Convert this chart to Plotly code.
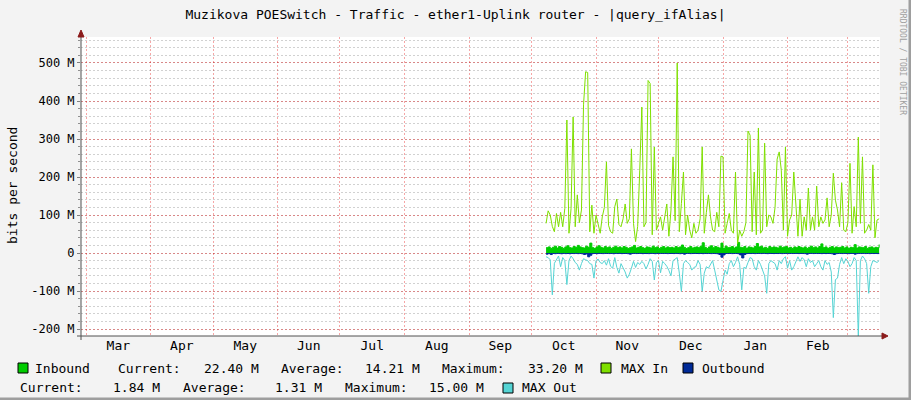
import pandas as pd
import plotly.graph_objects as go

# --- data (values in Mbit/s, one per day, starting 2019-10-08) ---
start_day = "2019-10-08"

max_in = [
    78, 111, 100, 70, 56, 104, 69, 107, 69, 117,
    350, 52, 117, 358, 69, 153, 80, 113, 390, 477,
    475, 56, 126, 52, 100, 78, 52, 95, 120, 240,
    73, 56, 52, 122, 142, 75, 69, 90, 129, 78,
    90, 274, 78, 30, 70, 218, 384, 69, 80, 454,
    446, 48, 279, 60, 80, 95, 60, 95, 129, 44,
    113, 253, 85, 500, 56, 130, 213, 48, 100, 60,
    40, 78, 52, 60, 90, 279, 52, 107, 153, 95,
    60, 56, 107, 69, 255, 253, 52, 78, 104, 60,
    52, 213, 25, 60, 44, 56, 80, 321, 310, 56,
    213, 48, 329, 52, 60, 289, 69, 100, 95, 78,
    120, 247, 266, 218, 60, 279, 44, 87, 100, 213,
    139, 44, 142, 44, 95, 60, 171, 60, 95, 60,
    176, 69, 95, 78, 87, 145, 69, 100, 210, 139,
    113, 69, 185, 60, 56, 80, 236, 52, 122, 69,
    305, 78, 253, 52, 60, 75, 60, 232, 40, 87,
    90,
]

inbound = [
    14, 16, 12, 15, 18, 13, 17, 15, 12, 16,
    19, 14, 13, 17, 15, 20, 16, 14, 13, 18,
    15, 26, 14, 12, 16, 19, 15, 13, 17, 14,
    16, 12, 15, 18, 14, 16, 13, 17, 15, 12,
    14, 16, 20, 13, 15, 17, 14, 12, 16, 15,
    13, 18, 14, 16, 12, 15, 17, 13, 16, 14,
    15, 13, 17, 14, 16, 21, 15, 12, 14, 17,
    13, 15, 16, 14, 18, 27, 15, 12, 16, 19,
    14, 17, 15, 13, 26, 12, 18, 14, 15, 17,
    13, 16, 28, 15, 14, 17, 12, 16, 15, 13,
    17, 25, 16, 18, 13, 15, 12, 17, 14, 16,
    15, 13, 18, 14, 16, 17, 13, 15, 12, 16,
    14, 17, 15, 13, 16, 12, 15, 18, 14, 16,
    13, 17, 24, 14, 16, 12, 15, 17, 13, 16,
    14, 15, 17, 13, 16, 12, 15, 14, 22, 13,
    16, 15, 14, 17, 12, 15, 16, 13, 15, 14,
    22.4,
]

outbound = [
    -3, -1.5, -4, -1.2, -1.8, -1, -1.4, -2, -1.1, -1.6,
    -1.3, -1.9, -1.2, -1.5, -1, -1.7, -1.3, -2.2, -4, -2.5,
    -10, -6, -1.5, -1.2, -1.8, -1.1, -1.4, -1.6, -1, -1.3,
    -1.5, -1.2, -1.9, -1.1, -1.4, -1, -1.6, -1.3, -1.2, -1.8,
    -3, -1.4, -1.1, -1.5, -1.3, -1, -1.7, -1.2, -1.4, -1.6,
    -1.1, -1.3, -1.8, -1, -1.5, -1.2, -1.4, -1.1, -1.6, -1.3,
    -1.2, -1.5, -1, -1.4, -1.8, -1.1, -3, -1.3, -1.2, -1.6,
    -1.4, -1, -1.3, -1.5, -1.2, -1.7, -1.1, -1.4, -1.3, -1.6,
    -1.2, -1.5, -2, -4, -11, -5, -1.3, -1.4, -1.1, -1.6,
    -1.3, -1.2, -2, -5, -13, -4, -1.5, -1.2, -1.4, -1.1,
    -1.6, -1.3, -1.2, -1.5, -1, -1.4, -1.7, -1.1, -1.3, -1.5,
    -1.2, -1.4, -1.1, -1.6, -1.3, -1, -1.5, -1.2, -1.4, -1.3,
    -1.1, -1.5, -1.2, -1.4, -1.6, -3, -1.3, -1.1, -1.5, -1.2,
    -1.4, -1.3, -1.6, -1.1, -1.5, -1.2, -1.4, -2, -4, -1.8,
    -1.3, -1.2, -1.5, -1.1, -1.4, -1.6, -1.2, -1.3, -3, -1.5,
    -1.2, -1.4, -1.1, -1.5, -1.3, -1.6, -1.2, -1.4, -1.1, -1.5,
    -1.84,
]

max_out = [
    -10, -12, -18, -110, -27, -18, -8, -36, -12, -20,
    -83, -20, -8, -15, -25, -30, -45, -28, -15, -18,
    -20, -28, -30, -66, -20, -16, -25, -28, -20, -32,
    -15, -35, -40, -12, -38, -53, -28, -39, -50, -66,
    -56, -40, -22, -38, -25, -30, -22, -28, -42, -30,
    -15, -22, -71, -25, -20, -52, -22, -28, -35, -46,
    -60, -20, -15, -12, -53, -101, -28, -20, -25, -30,
    -45, -38, -36, -20, -30, -101, -53, -36, -40, -30,
    -20, -45, -70, -97, -101, -71, -45, -56, -28, -20,
    -36, -25, -10, -30, -97, -38, -40, -25, -12, -15,
    -36, -45, -20, -30, -48, -60, -106, -28, -20, -25,
    -28, -45, -20, -28, -15, -10, -40, -20, -45, -36,
    -20, -10, -22, -12, -18, -36, -15, -25, -20, -36,
    -28, -20, -36, -45, -20, -30, -25, -50, -170, -70,
    -66, -30, -12, -28, -15, -22, -36, -28, -12, -20,
    -220, -20, -8, -15, -28, -106, -36, -20, -22, -25,
    -20,
]

month_labels = ["Mar", "Apr", "May", "Jun", "Jul", "Aug",
                "Sep", "Oct", "Nov", "Dec", "Jan", "Feb"]
y_ticks = [-200, -100, 0, 100, 200, 300, 400, 500]
y_tick_text = ["-200 M", "-100 M", "0", "100 M", "200 M", "300 M", "400 M", "500 M"]

legend_rows = [
    # (text, x pixel, row, anchor)
    ("Inbound", 33, 0, "left"), ("Current:", 116, 0, "left"), ("22.40 M", 261, 0, "right"),
    ("Average:", 279, 0, "left"), ("14.21 M", 422, 0, "right"),
    ("Maximum:", 440, 0, "left"), ("33.20 M", 585, 0, "right"),
    ("MAX In", 619, 0, "left"), ("Outbound", 700, 0, "left"),
    ("Current:", 18, 1, "left"), ("1.84 M", 162, 1, "right"),
    ("Average:", 181, 1, "left"), ("1.31 M", 324, 1, "right"),
    ("Maximum:", 343, 1, "left"), ("15.00 M", 486, 1, "right"),
    ("MAX Out", 520, 1, "left"),
]

# Colors
C_IN = "#00CC00"
C_MAXIN = "#7FE000"
C_OUT = "#002A97"
C_MAXOUT = "#55D4D4"

# Geometry of the canvas (pixels)
W, H = 911, 400
L, R, T, B = 81, 880, 37, 336


def px(X):
    return (X - L) / (R - L)


def py(Y):
    return (B - Y) / (B - T)


days = pd.date_range(start_day, periods=len(max_in), freq="D")
month_starts = pd.date_range("2019-03-01", periods=13, freq="MS")
month_mid = month_starts[:-1] + (month_starts[1:] - month_starts[:-1]) / 2

fig = go.Figure()

fig.add_trace(go.Scatter(x=days[:len(inbound)], y=inbound, mode="lines",
                         line=dict(color=C_IN, width=1, shape="hv"),
                         fill="tozeroy", fillcolor=C_IN, hoverinfo="skip"))
fig.add_trace(go.Scatter(x=days[:len(outbound)], y=outbound, mode="lines",
                         line=dict(color=C_OUT, width=1, shape="hv"),
                         fill="tozeroy", fillcolor=C_OUT, hoverinfo="skip"))
fig.add_trace(go.Scatter(x=days, y=max_in, mode="lines",
                         line=dict(color=C_MAXIN, width=1)))
fig.add_trace(go.Scatter(x=days[:len(max_out)], y=max_out, mode="lines",
                         line=dict(color=C_MAXOUT, width=1)))

fig.update_xaxes(
    type="date",
    range=["2019-02-26 14:00", "2020-03-16 10:00"],
    tickmode="array",
    tickvals=list(month_mid),
    ticktext=month_labels,
    ticks="",
    showgrid=False,
    zeroline=False,
    showline=False,
    tickfont=dict(size=13),
    minor=dict(dtick="M1", tick0="2019-03-01", showgrid=True,
               gridcolor="rgba(230,0,0,0.35)", griddash="2px,2px", gridwidth=1),
)

fig.update_yaxes(
    range=[-218.4, 568.4],
    tickmode="array",
    tickvals=y_ticks,
    ticktext=y_tick_text,
    ticks="outside",
    ticklen=3,
    tickcolor="#808080",
    showgrid=True,
    gridcolor="rgba(230,0,0,0.35)",
    griddash="2px,2px",
    zeroline=False,
    showline=False,
    tickfont=dict(size=12),
    minor=dict(dtick=20, tick0=0, showgrid=True, ticks="outside", ticklen=2,
               tickcolor="#909090",
               gridcolor="rgba(0,0,0,0.18)", griddash="2px,2px", gridwidth=1),
)

shapes = [
    # frame shadow right and bottom
    dict(type="rect", xref="paper", yref="paper", x0=px(908.5), x1=px(911.5),
         y0=py(-1), y1=py(401), fillcolor="#9E9E9E", line_width=0),
    dict(type="rect", xref="paper", yref="paper", x0=px(-1), x1=px(911.5),
         y0=py(397.5), y1=py(401), fillcolor="#9E9E9E", line_width=0),
    # axis lines
    dict(type="line", xref="paper", yref="paper", x0=0, x1=0, y0=py(340), y1=py(33),
         line=dict(color="#505050", width=1)),
    dict(type="line", xref="paper", yref="paper", x0=px(77), x1=px(884), y0=0, y1=0,
         line=dict(color="#505050", width=1)),
    # arrows
    dict(type="path", xref="paper", yref="paper",
         path=f"M {px(78)} {py(37)} L {px(84)} {py(37)} L {px(81)} {py(30)} Z",
         fillcolor="#8B1A1A", line=dict(color="#8B1A1A", width=1)),
    dict(type="path", xref="paper", yref="paper",
         path=f"M {px(882)} {py(333)} L {px(882)} {py(339)} L {px(888)} {py(336)} Z",
         fillcolor="#8B1A1A", line=dict(color="#8B1A1A", width=1)),
]

# legend boxes
row_y = [368, 388]
for X, row, col in [(18, 0, C_IN), (601, 0, C_MAXIN), (683, 0, C_OUT), (503, 1, C_MAXOUT)]:
    yc = row_y[row]
    shapes.append(dict(type="rect", xref="paper", yref="paper",
                       x0=px(X), x1=px(X + 10), y0=py(yc - 5), y1=py(yc + 5),
                       fillcolor=col, line=dict(color="#000000", width=1)))

annotations = [
    dict(text="bits per second", x=px(12), y=py(186), xref="paper", yref="paper",
         xanchor="center", yanchor="middle",
         textangle=-90, showarrow=False, font=dict(size=13)),
    dict(text="RRDTOOL / TOBI OETIKER", x=px(903), y=py(62), xref="paper", yref="paper",
         xanchor="center", yanchor="middle",
         textangle=90, showarrow=False, font=dict(size=8, color="#A0A0A0")),
]
for text, X, row, anchor in legend_rows:
    annotations.append(dict(text=text, x=px(X), y=py(row_y[row]), xref="paper", yref="paper",
                            xanchor=anchor, yanchor="middle", showarrow=False,
                            font=dict(size=13)))

fig.update_layout(
    width=W,
    height=H,
    margin=dict(l=L, r=W - R, t=T, b=H - B),
    paper_bgcolor="#F3F3F3",
    plot_bgcolor="#FFFFFF",
    showlegend=False,
    font=dict(family="DejaVu Sans Mono", size=13, color="#000000"),
    title=dict(text="Muzikova POESwitch - Traffic - ether1-Uplink router - |query_ifAlias|",
               x=0.5, xref="container", xanchor="center",
               y=1 - 14 / H, yref="container", yanchor="middle",
               font=dict(size=13)),
    shapes=shapes,
    annotations=annotations,
)

# the page body has a default 8px margin; drop it so the figure sits at 0,0
fig.write_html("out.html", config={"displayModeBar": False},
               post_script="document.body.style.margin='0';")
